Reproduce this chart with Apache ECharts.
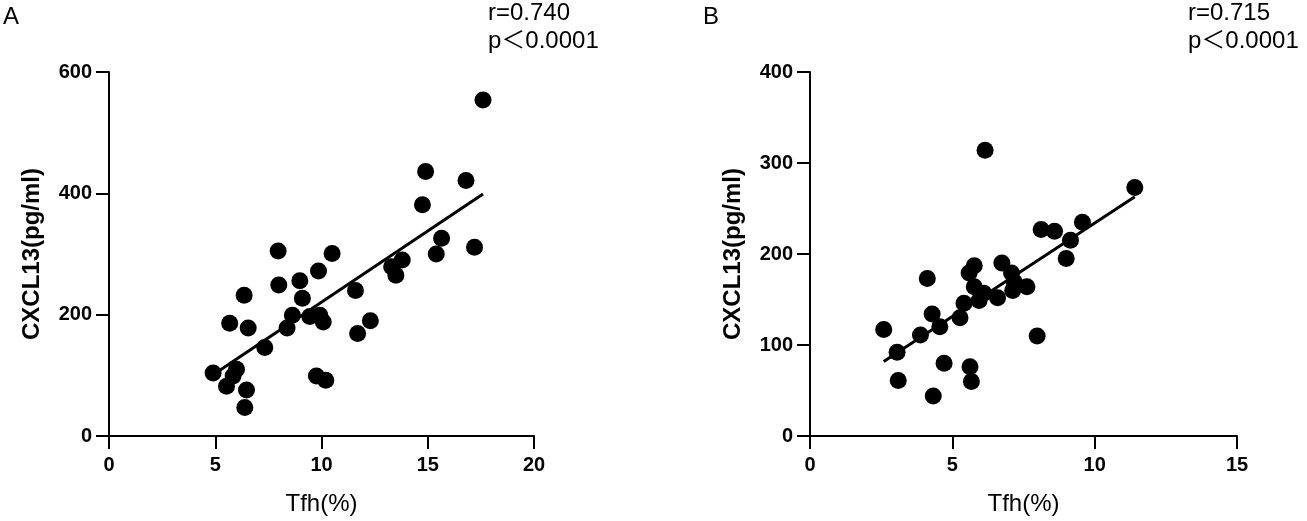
<!DOCTYPE html>
<html>
<head>
<meta charset="utf-8">
<script src="https://cdn.jsdelivr.net/npm/echarts@6/dist/echarts.min.js"></script>
<style>
  html, body { margin: 0; padding: 0; background: #fff; }
  #chart { width: 1307px; height: 521px; }
</style>
</head>
<body>
<div id="chart"></div>
<script>
// panel A: Tfh(%) vs CXCL13
var tfhA = [17.6, 14.9, 16.8, 14.75, 15.65, 17.2, 15.4, 13.8, 13.3, 13.5, 7.96, 10.5, 9.86, 8.98, 7.99, 9.1, 6.36, 11.6,
    8.63, 9.45, 9.92, 10.08, 12.3, 5.68, 6.55, 8.38, 11.7, 7.33, 4.9, 6.0, 5.84, 5.53, 6.47, 9.76, 10.2, 6.39];
var cxclA = [554, 436, 421, 381, 326, 311, 300, 290, 279, 265, 305, 301, 272, 256, 249, 227, 232, 240,
    199, 197, 199, 188, 190, 186, 178, 178, 169, 146, 104, 110, 99, 82, 76, 99, 92, 47];
// panel B
var tfhB = [6.15, 11.41, 9.57, 8.12, 8.59, 9.15, 9.0, 4.12, 5.77, 5.59, 6.74, 7.08, 5.77, 6.1, 6.59, 7.18,
    7.62, 7.12, 5.94, 5.41, 4.29, 5.27, 4.56, 3.88, 2.59, 7.98, 3.06, 4.71, 5.62, 3.1, 5.67, 4.33];
var cxclB = [314, 273, 235, 227, 225, 215, 195, 173, 187, 179, 190, 179, 164, 157, 152, 169,
    164, 160, 149, 146, 134, 130, 120, 111, 117, 110, 92, 80, 76, 61, 60, 44];

// fitted lines, ends
var fitAx = [4.9, 17.6], fitAy = [101, 399];
var fitBx = [2.59, 11.41], fitBy = [82, 263];

var xTicks = { A: [0, 20, 5], B: [0, 15, 5] };
var yTicks = { A: [0, 600, 200], B: [0, 400, 100] };

var panelLabels = ['A', 'B'];
var statsText = [['r=0.740', 'p＜0.0001'], ['r=0.715', 'p＜0.0001']];

var FONT = "'Liberation Sans', Arial, 'Noto Sans CJK SC', sans-serif";

function pairs(xs, ys) {
    return xs.map(function(x, i) { return [x, ys[i]]; });
}

function makeX(idx, t) {
    return {
        type: 'value', gridIndex: idx, min: t[0], max: t[1], interval: t[2],
        name: 'Tfh(%)', nameLocation: 'middle', nameGap: 56,
        nameTextStyle: { fontFamily: FONT, fontSize: 24, color: '#000' },
        axisLine: { lineStyle: { color: '#000', width: 2 } },
        axisTick: { length: 13, lineStyle: { color: '#000', width: 2 } },
        axisLabel: { fontFamily: FONT, fontSize: 20, fontWeight: 'bold', color: '#000', margin: 19 },
        splitLine: { show: false }
    };
}

function makeY(idx, t) {
    return {
        type: 'value', gridIndex: idx, min: t[0], max: t[1], interval: t[2],
        name: 'CXCL13(pg/ml)', nameLocation: 'middle', nameGap: 65,
        nameTextStyle: { fontFamily: FONT, fontSize: 24, fontWeight: 'bold', color: '#000' },
        axisLine: { show: true, lineStyle: { color: '#000', width: 2 } },
        axisTick: { show: true, length: 13, lineStyle: { color: '#000', width: 2 } },
        axisLabel: { fontFamily: FONT, fontSize: 20, fontWeight: 'bold', color: '#000', margin: 17 },
        splitLine: { show: false }
    };
}

function scatter(idx, xs, ys) {
    return {
        type: 'scatter', xAxisIndex: idx, yAxisIndex: idx,
        data: pairs(xs, ys), symbolSize: 17,
        itemStyle: { color: '#000', opacity: 1 }, z: 3
    };
}

function fitLine(idx, xs, ys) {
    return {
        type: 'line', xAxisIndex: idx, yAxisIndex: idx,
        data: pairs(xs, ys), showSymbol: false, silent: true,
        lineStyle: { color: '#000', width: 3 }, z: 4
    };
}

var chart = echarts.init(document.getElementById('chart'));

var graphics = [];
var leftA = [3, 703], leftStats = [488, 1188];
panelLabels.forEach(function(lbl, i) {
    graphics.push({ type: 'text', left: leftA[i], top: 5,
        style: { text: lbl, font: '24px ' + FONT, fill: '#000' } });
    graphics.push({ type: 'text', left: leftStats[i], top: 1,
        style: { text: statsText[i][0], font: '24px ' + FONT, fill: '#000' } });
    graphics.push({ type: 'text', left: leftStats[i], top: 29,
        style: { text: statsText[i][1], font: '24px ' + FONT, fill: '#000' } });
});

chart.setOption({
    backgroundColor: '#fff',
    animation: false,
    grid: [
        { left: 109, width: 425, top: 72, bottom: 85 },
        { left: 810, width: 427, top: 72, bottom: 85 }
    ],
    xAxis: [makeX(0, xTicks.A), makeX(1, xTicks.B)],
    yAxis: [makeY(0, yTicks.A), makeY(1, yTicks.B)],
    series: [
        scatter(0, tfhA, cxclA), fitLine(0, fitAx, fitAy),
        scatter(1, tfhB, cxclB), fitLine(1, fitBx, fitBy)
    ],
    graphic: graphics
});
</script>
</body>
</html>
